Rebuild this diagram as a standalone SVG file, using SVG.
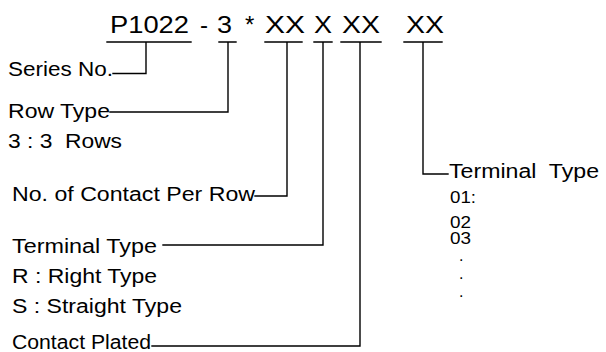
<svg xmlns="http://www.w3.org/2000/svg" width="606" height="352" viewBox="0 0 606 352">
<style>
text{font-family:"Liberation Sans",Arial,sans-serif;fill:#000;white-space:pre}
.code{font-size:24px}
.lbl{font-size:20px}
.sm{font-size:16px}
.ln{stroke:#000;stroke-width:1.4;fill:none;stroke-linecap:square}
</style>
<rect width="606" height="352" fill="#fff"/>
<g id="code">
<text class="code" x="110" y="33" textLength="79" lengthAdjust="spacingAndGlyphs">P1022</text>
<text class="code" x="200" y="33">-</text>
<text class="code" x="217" y="33" textLength="15" lengthAdjust="spacingAndGlyphs">3</text>
<text class="code" x="245" y="33">*</text>
<text class="code" x="265" y="33" textLength="40" lengthAdjust="spacingAndGlyphs">XX</text>
<text class="code" x="314" y="33" textLength="18" lengthAdjust="spacingAndGlyphs">X</text>
<text class="code" x="342" y="33" textLength="38" lengthAdjust="spacingAndGlyphs">XX</text>
<text class="code" x="406" y="33" textLength="38" lengthAdjust="spacingAndGlyphs">XX</text>
</g>
<g id="connectors">
<path class="ln" d="M107 42H191M146 42V73.5H113"/>
<path class="ln" d="M219 42H236M228 42V112H110"/>
<path class="ln" d="M265 42H302M287 42V196H255"/>
<path class="ln" d="M314 42H332M323 42V245H163"/>
<path class="ln" d="M341 42H381M360 42V346H152"/>
<path class="ln" d="M404 42H442M423 42V174H448"/>
</g>
<g id="series"><text class="lbl" x="8" y="76" textLength="105" lengthAdjust="spacingAndGlyphs">Series No.</text></g>
<g id="row-type">
<text class="lbl" x="8" y="118" textLength="102" lengthAdjust="spacingAndGlyphs">Row Type</text>
<text class="lbl" x="8" y="148" textLength="114" lengthAdjust="spacingAndGlyphs">3 : 3  Rows</text>
</g>
<g id="contacts"><text class="lbl" x="12" y="201" textLength="243" lengthAdjust="spacingAndGlyphs">No. of Contact Per Row</text></g>
<g id="terminal-type">
<text class="lbl" x="12" y="253" textLength="145" lengthAdjust="spacingAndGlyphs">Terminal Type</text>
<text class="lbl" x="12" y="283" textLength="145" lengthAdjust="spacingAndGlyphs">R : Right Type</text>
<text class="lbl" x="12" y="313" textLength="170" lengthAdjust="spacingAndGlyphs">S : Straight Type</text>
</g>
<g id="contact-plated"><text class="lbl" x="12" y="349" textLength="139" lengthAdjust="spacingAndGlyphs">Contact Plated</text></g>
<g id="terminal-type-2">
<text class="lbl" x="449" y="178" textLength="150" lengthAdjust="spacingAndGlyphs">Terminal  Type</text>
<text class="sm" x="450" y="203" textLength="26" lengthAdjust="spacingAndGlyphs">01:</text>
<text class="sm" x="450" y="228" textLength="21" lengthAdjust="spacingAndGlyphs">02</text>
<text class="sm" x="450" y="244" textLength="21" lengthAdjust="spacingAndGlyphs">03</text>
<text class="sm" x="459" y="261">.</text>
<text class="sm" x="459" y="279">.</text>
<text class="sm" x="459" y="297">.</text>
</g>
</svg>
